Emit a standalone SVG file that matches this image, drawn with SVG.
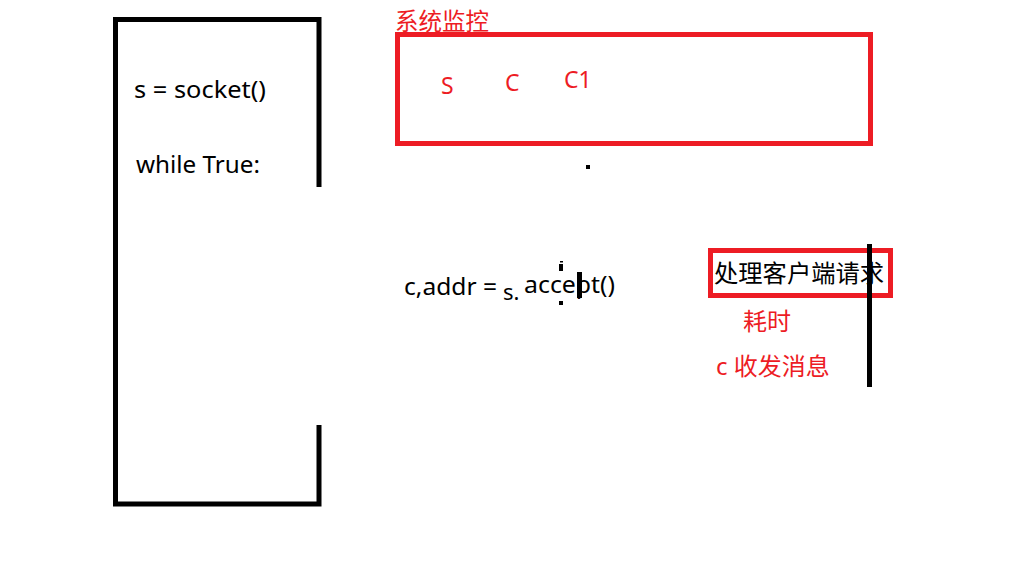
<svg xmlns="http://www.w3.org/2000/svg" width="1018" height="579" viewBox="0 0 1018 579">
<style>
.t{font-family:"Noto Sans","Noto Sans CJK SC",sans-serif;fill:#000}
.r{font-family:"Noto Sans","Noto Sans CJK SC",sans-serif;fill:#ED1C24}
.blk{fill:none;stroke:#000;stroke-width:5}
.red{fill:none;stroke:#ED1C24;stroke-width:5}
</style>
<rect width="1018" height="579" fill="#fff"/>
<g id="loop">
<path class="blk" d="M319,187 V19.5 H115.5 V504 H319 V425"/>
<text class="t" x="134" y="98" font-size="23" textLength="132" lengthAdjust="spacingAndGlyphs">s = socket()</text>
<text class="t" x="136" y="173" font-size="23" textLength="124" lengthAdjust="spacingAndGlyphs">while True:</text>
</g>
<g id="monitor">
<text class="r" x="395" y="30" font-size="23.5">系统监控</text>
<rect class="red" x="397.5" y="34.5" width="473" height="109"/>
<text class="r" x="441" y="94" font-size="23">S</text>
<text class="r" x="505" y="91" font-size="23">C</text>
<text class="r" x="564" y="88" font-size="23">C1</text>
</g>
<g id="accept">
<rect x="586" y="165" width="4" height="4" fill="#000"/>
<text class="t" x="404" y="295" font-size="23" textLength="93" lengthAdjust="spacingAndGlyphs">c,addr =</text>
<text class="t" x="503" y="300" font-size="22">s.</text>
<text class="t" x="524" y="293" font-size="23" textLength="91" lengthAdjust="spacingAndGlyphs">accept()</text>
<rect x="560" y="261" width="3" height="1.5" fill="#000"/>
<rect x="559" y="264" width="4" height="7" fill="#000"/>
<rect x="559" y="301" width="4" height="4" fill="#000"/>
<rect x="577" y="272" width="5" height="26" fill="#000"/>
</g>
<g id="handle">
<rect class="red" x="710.5" y="250.5" width="180" height="45"/>
<text class="t" x="714" y="282" font-size="24.3">处理客户端请求</text>
<line x1="869.5" y1="244" x2="869.5" y2="387" stroke="#000" stroke-width="5"/>
<text class="r" x="743" y="330" font-size="24">耗时</text>
<text class="r" x="716" y="375" font-size="24">c 收发消息</text>
</g>
<g id="connectors"></g>
</svg>
